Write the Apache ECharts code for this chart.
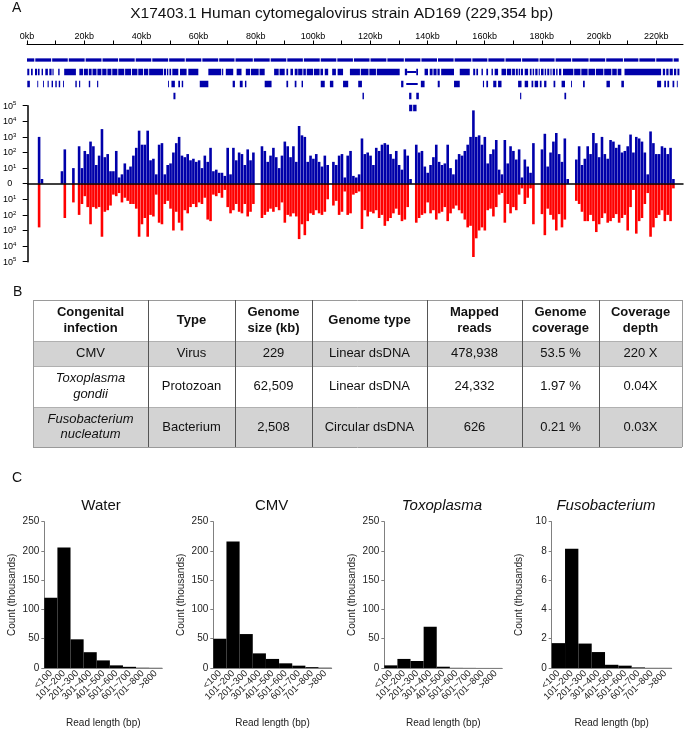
<!DOCTYPE html>
<html>
<head>
<meta charset="utf-8">
<title>CMV AD169 coverage</title>
<script src="https://cdn.jsdelivr.net/npm/echarts@6/dist/echarts.min.js"></script>
<style>
  html, body { margin: 0; padding: 0; background: #fff; }
  #main { width: 685px; height: 729px; }
</style>
</head>
<body>
<div id="main"></div>
<script type="text/javascript">
// ---- panel A : genome, gene tracks and read coverage ----
var genomeLength = 229.354; // kb
var genomeTitle = 'X17403.1 Human cytomegalovirus strain AD169 (229,354 bp)';

// read depth per kb, in log10 units (0 = no reads), forward strand
var fwdLog = [
  0,0,0,0,3.0,0.3,0,0,0,0,
  0,0,0.8,2.2,0,0,1.0,0,2.4,1.0,
  2.1,1.9,2.7,2.4,1.2,1.8,3.5,1.7,1.9,0.8,
  0.8,2.1,0.4,0.6,1.3,0.9,1.1,1.8,2.3,3.4,
  2.5,2.5,3.4,1.5,1.6,0.6,2.5,2.6,0.6,1.2,
  1.3,2.0,2.6,3.0,1.8,1.7,1.9,1.5,1.6,1.4,
  1.5,1.0,1.8,1.4,2.3,0.8,0.9,0.7,0.7,0.5,
  2.3,0.6,2.3,1.5,2.0,1.9,1.2,2.2,1.5,2.0,
  0,0,2.4,2.1,1.4,1.8,2.3,1.7,1.0,1.8,
  2.7,2.4,1.7,2.4,1.4,3.7,3.1,3.0,1.4,1.8,
  1.6,1.9,1.4,1.1,1.8,1.2,0,1.4,1.2,1.8,
  1.9,0.4,1.8,2.1,0.5,0.4,0.6,2.9,1.9,2.0,
  1.8,1.2,2.3,2.1,2.5,2.6,2.5,1.9,1.6,2.1,
  1.2,0.9,2.2,1.8,0.3,0,2.5,2.0,2.1,1.1,
  0.7,1.2,1.7,2.5,1.4,1.2,1.3,2.5,1.0,0.6,
  1.55,1.9,1.8,2.1,2.5,3.0,4.7,3.0,3.1,2.5,
  3.0,1.3,1.9,2.2,2.8,0.9,0.6,2.8,1.3,2.4,
  2.1,1.55,2.2,0.4,1.55,1.1,0.7,2.6,0,0,
  2.2,3.2,1.1,2.0,2.7,3.25,1.9,1.4,2.9,0.3,
  0,0,1.55,2.4,1.2,1.6,2.4,1.9,3.25,2.6,
  1.7,3.0,1.9,1.6,2.8,2.7,2.3,2.5,2.0,2.1,
  2.4,3.15,2.0,3.0,2.9,2.7,2.0,0.6,3.35,2.6,
  1.9,1.9,2.4,2.3,1.9,2.3,0.3,0,0,0
];
// reverse strand, same units (drawn downwards)
var revLog = [
  0,0,0,0,2.8,0,0,0,0,0,
  0,0,0,2.2,0,0,1.2,0,2.0,1.3,
  0.8,1.5,2.6,1.5,1.6,1.5,3.4,1.8,1.7,1.4,
  0.7,0.8,0.6,1.2,0.9,1.1,1.3,1.3,1.6,3.4,
  2.6,2.2,3.4,2.0,2.1,0.7,2.5,2.6,1.3,1.1,
  1.6,3.0,1.8,2.5,3.0,1.7,1.9,1.5,1.3,1.5,
  1.2,1.3,0.9,2.3,2.4,0.7,0.8,0.6,0.9,0.4,
  1.5,1.9,1.7,1.3,1.8,1.9,1.3,2.1,1.8,1.3,
  0,0,2.2,2.0,1.8,1.6,1.8,1.5,1.7,1.2,
  2.5,2.0,2.1,1.9,2.1,3.55,2.6,3.3,2.4,1.9,
  2.0,1.7,1.9,2.0,1.8,1.0,0,1.4,1.1,2.0,
  1.8,0.5,2.0,1.9,0.7,0.6,0.5,2.9,1.7,2.1,
  1.8,1.9,1.7,2.2,2.0,2.7,2.4,2.2,1.9,1.6,
  2.0,2.4,2.3,1.5,0,0,2.5,2.2,2.0,1.9,
  1.2,1.9,1.7,2.3,1.9,1.8,1.5,2.4,1.9,1.6,
  1.4,1.7,1.9,2.3,2.8,2.7,4.7,3.5,3.0,2.8,
  3.0,1.7,1.6,2.1,1.5,0.7,0.6,2.5,1.3,1.9,
  1.5,1.7,0.7,0.3,1.3,0.9,0.3,2.6,0,0,
  1.95,3.3,1.6,2.0,2.3,3.0,1.95,2.8,2.3,0,
  0,0,1.1,1.3,1.8,2.4,2.4,2.0,2.4,3.1,
  2.6,2.2,1.9,2.5,2.4,2.2,1.95,2.5,2.2,2.0,
  3.0,1.5,0.4,3.2,2.4,2.2,1.3,0.6,3.4,2.8,
  2.2,2.0,1.7,2.4,2.0,2.4,0.3,0,0,0
];

// track 1: breaks along the genome line (kb)
var trackOneBreaks = [0, 2.9, 8.8, 14.6, 20.5, 26.4, 32.2, 38.0, 43.8, 49.7, 55.5, 61.3,
  67.2, 72.9, 79.3, 85.2, 91.0, 96.8, 102.7, 108.5, 114.3, 120.1, 126.0, 132.1, 137.9,
  143.7, 149.5, 155.7, 161.3, 167.3, 173.1, 179.2, 184.8, 190.6, 196.7, 202.5, 208.7,
  214.1, 220.0, 226.1, 228.2];
// tracks 2-5: features [start kb, end kb]
var trackTwo = [[0.1,0.8],[1.4,2.0],[2.8,3.5],[3.8,4.4],[5.1,5.6],[6.4,7.3],[7.8,8.6],[8.9,9.3],
  [10.9,11.4],[13.0,17.1],[18.3,19.6],[19.9,21.3],[21.6,22.6],[22.9,24.3],[24.6,26.0],[26.3,27.8],
  [28.1,29.5],[29.8,31.6],[31.9,34.0],[34.3,36.4],[36.7,38.6],[38.9,40.6],[40.9,42.4],[42.7,47.6],
  [47.9,48.6],[48.9,49.4],[49.8,50.4],[50.8,52.9],[53.5,55.8],[56.4,59.9],[63.4,67.9],[68.2,68.6],
  [69.5,72.1],[73.3,75.0],[76.5,78.0],[78.3,81.0],[81.3,83.1],[86.4,88.0],[88.3,90.1],[90.7,91.3],
  [92.1,93.0],[93.6,94.6],[94.8,96.3],[96.6,97.5],[97.8,100.0],[100.3,102.3],[102.6,103.5],
  [104.1,105.3],[106.7,108.0],[108.6,110.5],[112.9,116.4],[116.7,119.4],[119.7,122.0],[122.3,130.3],
  [132.1,132.9],[136.1,136.7],[139.0,140.2],[140.8,141.8],[142.1,143.2],[143.5,144.3],[144.8,149.3],
  [151.3,154.8],[156.0,156.7],[157.1,157.7],[158.9,159.4],[160.6,161.2],[162.4,162.9],[163.5,164.7],
  [165.9,167.5],[167.8,169.3],[169.6,170.6],[170.9,171.6],[171.9,172.4],[172.7,173.4],[174.0,175.2],
  [175.8,176.4],[176.8,177.3],[177.7,178.5],[178.9,179.3],[179.7,180.6],[181.0,181.5],[181.9,182.6],
  [183.0,183.4],[183.8,184.6],[185.0,185.5],[186.0,186.8],[187.4,191.0],[191.3,193.5],[193.8,196.0],
  [196.3,198.6],[198.9,201.5],[201.8,204.3],[204.6,206.2],[206.5,207.8],[208.9,221.7],[222.3,223.1],
  [223.5,224.3],[224.7,225.8],[226.2,227.0],[227.4,228.1]];
var trackThree = [[0.1,1.0],[3.6,3.9],[5.6,5.9],[7.2,7.6],[8.6,9.1],[9.9,10.4],[11.1,11.6],[12.6,12.9],
  [16.9,17.4],[18.2,18.6],[21.6,22.1],[24.5,24.9],[49.3,49.5],[50.5,51.7],[52.9,53.5],[54.1,54.6],
  [60.4,63.4],[71.9,72.7],[74.4,75.4],[76.2,76.7],[83.1,85.5],[90.7,91.3],[93.6,94.2],[96.0,96.5],
  [102.7,104.1],[105.9,107.1],[110.5,112.3],[115.8,117.1],[130.8,131.6],[137.7,139.0],[143.6,144.3],
  [149.3,151.3],[159.4,159.8],[160.6,161.2],[163.0,164.1],[164.7,165.9],[171.7,172.9],[174.0,175.2],
  [176.4,177.0],[177.5,178.7],[179.3,179.9],[180.8,181.6],[184.1,184.7],[186.9,188.1],[190.2,190.5],
  [194.4,195.0],[202.6,203.8],[207.8,208.7],[220.3,221.7],[222.8,223.4],[223.9,224.5],[225.7,226.3],
  [227.2,227.5]];
var trackFour = [[51.2,51.9],[117.3,117.8],[133.6,134.4],[136.1,137.0],[172.4,172.8],[187.9,188.5]];
var trackFive = [[133.6,134.7],[135.0,136.2]];
// thin joins (track index, start, end)
var trackJoins = [[1,132.9,136.1],[2,132.6,136.6]];

// ---- panel B : table ----
var tableHeader = ['Congenital\ninfection', 'Type', 'Genome\nsize (kb)', 'Genome type',
  'Mapped\nreads', 'Genome\ncoverage', 'Coverage\ndepth'];
var rowCMV = ['CMV', 'Virus', '229', 'Linear dsDNA', '478,938', '53.5 %', '220 X'];
var rowToxo = ['Toxoplasma\ngondii', 'Protozoan', '62,509', 'Linear dsDNA', '24,332', '1.97 %', '0.04X'];
var rowFuso = ['Fusobacterium\nnucleatum', 'Bacterium', '2,508', 'Circular dsDNA', '626', '0.21 %', '0.03X'];

// ---- panel C : read length histograms (thousands) ----
var lengthBins = ['<100', '101~200', '201~300', '301~400', '401~500', '501~600', '601~700', '701~800', '>800'];
var waterCounts = [120, 206, 49, 27, 13, 4.5, 2, 0.5, 0.3];
var cmvCounts = [50, 216, 58, 25, 15.5, 8, 4, 1.5, 0.5];
var toxoCounts = [4.5, 15.5, 12, 70.5, 2.2, 0.3, 0.2, 0.1, 0.1];
var fusoCounts = [1.7, 8.15, 1.67, 1.09, 0.22, 0.16, 0.04, 0.01, 0.01];

var FONT = '"Liberation Sans", Arial, Helvetica, sans-serif';
var BLUE = '#0000aa';
var RED = '#ff0000';

var myChart = echarts.init(document.getElementById('main'));

// gene feature rectangles
function geneRenderer(h, gap) {
    return function (params, api) {
        var a = api.coord([api.value(1), api.value(0)]);
        var b = api.coord([api.value(2), api.value(0)]);
        return {
            type: 'rect',
            shape: { x: a[0], y: a[1] - h / 2, width: Math.max(b[0] - a[0] - gap, 0.9), height: h },
            style: { fill: BLUE }
        };
    };
}
var dashData = [];
for (var i = 1; i < trackOneBreaks.length; i++) {
    dashData.push([0, trackOneBreaks[i - 1], trackOneBreaks[i]]);
}
var blockData = [];
[trackTwo, trackThree, trackFour, trackFive].forEach(function (t, k) {
    t.forEach(function (s) { blockData.push([k + 1, s[0], s[1]]); });
});

// histogram axes
function histX(g) {
    return {
        type: 'category', gridIndex: g, data: lengthBins,
        axisLine: { show: true, lineStyle: { color: '#808080', width: 1 } },
        axisTick: { show: false },
        axisLabel: { rotate: 45, interval: 0, fontSize: 9.5, color: '#222', margin: 4 },
        name: 'Read length (bp)', nameLocation: 'middle', nameGap: 50,
        nameTextStyle: { fontSize: 10, color: '#222' }
    };
}
function histY(g, max, step) {
    return {
        type: 'value', gridIndex: g, min: 0, max: max, interval: step,
        axisLine: { show: true, lineStyle: { color: '#808080', width: 1 } },
        axisTick: { show: true, length: 3, lineStyle: { color: '#808080' } },
        axisLabel: { fontSize: 10, color: '#222', margin: 5 },
        splitLine: { show: false },
        name: 'Count (thousands)', nameLocation: 'middle', nameGap: 27, nameRotate: 90,
        nameTextStyle: { fontSize: 10, color: '#222' }
    };
}
function histSeries(g, counts) {
    return {
        type: 'bar', xAxisIndex: g, yAxisIndex: g, data: counts,
        barCategoryGap: '0%', itemStyle: { color: '#000' }, silent: true
    };
}

// table drawn with graphic elements
var colX = [33, 148, 235, 312, 427, 522, 599, 682];
var rowY = [300, 341, 366, 407, 447];
var tableRows = [tableHeader, rowCMV, rowToxo, rowFuso];
var graphics = [];
tableRows.forEach(function (row, r) {
    graphics.push({
        type: 'rect', shape: { x: colX[0], y: rowY[r], width: colX[7] - colX[0], height: rowY[r + 1] - rowY[r] },
        style: { fill: (r % 2 === 1) ? '#d3d3d3' : '#fff' }, z: 1
    });
    row.forEach(function (txt, c) {
        graphics.push({
            type: 'text', z: 3,
            style: {
                text: txt, x: (colX[c] + colX[c + 1]) / 2, y: (rowY[r] + rowY[r + 1]) / 2,
                align: 'center', verticalAlign: 'middle', fontFamily: FONT, fontSize: 13,
                lineHeight: 15.5, fill: '#111',
                fontWeight: r === 0 ? 'bold' : 'normal',
                fontStyle: (c === 0 && r > 1) ? 'italic' : 'normal'
            }
        });
    });
});
rowY.forEach(function (y, k) {
    graphics.push({ type: 'line', z: 2, shape: { x1: colX[0], y1: y + 0.5, x2: colX[7], y2: y + 0.5 },
        style: { stroke: (k === 0 || k === 4) ? '#9a9a9a' : '#b0b0b0', lineWidth: 1 } });
});
colX.forEach(function (x, k) {
    graphics.push({ type: 'line', z: 2, shape: { x1: x + 0.5, y1: rowY[0], x2: x + 0.5, y2: rowY[4] },
        style: { stroke: (k === 0 || k === 7) ? '#9a9a9a' : '#555', lineWidth: 1 } });
});

// labels and titles
function label(txt, x, y, size, align, italic) {
    graphics.push({ type: 'text', z: 3, style: {
        text: txt, x: x, y: y, align: align, verticalAlign: 'middle', fontFamily: FONT,
        fontSize: size, fill: '#111', fontStyle: italic ? 'italic' : 'normal' } });
}
label('A', 12, 8.5, 14, 'left');
label('B', 13, 292, 14, 'left');
label('C', 12, 478, 14, 'left');
label(genomeTitle, 341.7, 13.5, 15.5, 'center');
label('Water', 101, 505.5, 15, 'center');
label('CMV', 271.7, 505.5, 15, 'center');
label('Toxoplasma', 442, 505.5, 15, 'center', true);
label('Fusobacterium', 606, 505.5, 15, 'center', true);

var option = {
    animation: false,
    textStyle: { fontFamily: FONT },
    grid: [
        { left: 27, top: 54, width: 656, height: 60 },
        { left: 27, top: 105.7, width: 656, height: 156 },
        { left: 44.3, top: 521.7, width: 118, height: 150 },
        { left: 213.3, top: 521.7, width: 118.4, height: 150 },
        { left: 384.3, top: 521.7, width: 118, height: 150 },
        { left: 551.7, top: 521.7, width: 120, height: 150 }
    ],
    xAxis: [
        {
            type: 'value', gridIndex: 0, position: 'top', offset: 9.5,
            min: 0, max: genomeLength, interval: 10,
            axisLine: { show: true, onZero: false, lineStyle: { color: '#000', width: 1 } },
            axisTick: { show: true, length: 4, lineStyle: { color: '#000' } },
            axisLabel: {
                fontSize: 9, color: '#000', margin: 3.5, showMaxLabel: false,
                formatter: function (v) { return v % 20 === 0 ? v + 'kb' : ''; }
            },
            splitLine: { show: false }
        },
        {
            type: 'value', gridIndex: 1, min: 0, max: genomeLength, z: 10,
            axisLine: { show: true, onZero: true, lineStyle: { color: '#000', width: 1.5 } },
            axisTick: { show: false }, axisLabel: { show: false }, splitLine: { show: false }
        },
        histX(2), histX(3), histX(4), histX(5)
    ],
    yAxis: [
        { type: 'category', gridIndex: 0, data: ['1', '2', '3', '4', '5'], inverse: true, show: false },
        {
            type: 'value', gridIndex: 1, min: -5, max: 5, interval: 1,
            axisLine: { show: true, onZero: false, lineStyle: { color: '#000', width: 1.5 } },
            axisTick: { show: true, length: 5, lineStyle: { color: '#000' } },
            axisLabel: {
                align: 'center', margin: 18,
                formatter: function (v) {
                    return v === 0 ? '{n|0}' : '{n|10}{s|' + Math.abs(v) + '}';
                },
                rich: {
                    n: { fontSize: 9, color: '#000', fontFamily: FONT, verticalAlign: 'bottom' },
                    s: { fontSize: 6, color: '#000', fontFamily: FONT, verticalAlign: 'bottom', padding: [0, 0, 4, 0] }
                }
            },
            splitLine: { show: false }
        },
        histY(2, 250, 50), histY(3, 250, 50), histY(4, 250, 50), histY(5, 10, 2)
    ],
    series: [
        {
            type: 'custom', xAxisIndex: 0, yAxisIndex: 0, renderItem: geneRenderer(3.3, 1),
            data: dashData, encode: { x: [1, 2], y: 0 }, silent: true
        },
        {
            type: 'custom', xAxisIndex: 0, yAxisIndex: 0, renderItem: geneRenderer(6.5, 0),
            data: blockData, encode: { x: [1, 2], y: 0 }, silent: true
        },
        {
            type: 'custom', xAxisIndex: 0, yAxisIndex: 0, renderItem: geneRenderer(2, 0),
            data: trackJoins, encode: { x: [1, 2], y: 0 }, silent: true
        },
        {
            type: 'bar', xAxisIndex: 1, yAxisIndex: 1, barWidth: 2.6, barGap: '-100%',
            data: fwdLog.map(function (v, i) { return [i, v]; }),
            itemStyle: { color: BLUE }, silent: true
        },
        {
            type: 'bar', xAxisIndex: 1, yAxisIndex: 1, barWidth: 2.6, barGap: '-100%',
            data: revLog.map(function (v, i) { return [i, -v]; }),
            itemStyle: { color: RED }, silent: true
        },
        histSeries(2, waterCounts),
        histSeries(3, cmvCounts),
        histSeries(4, toxoCounts),
        histSeries(5, fusoCounts)
    ],
    graphic: graphics
};

myChart.setOption(option);
</script>
</body>
</html>
